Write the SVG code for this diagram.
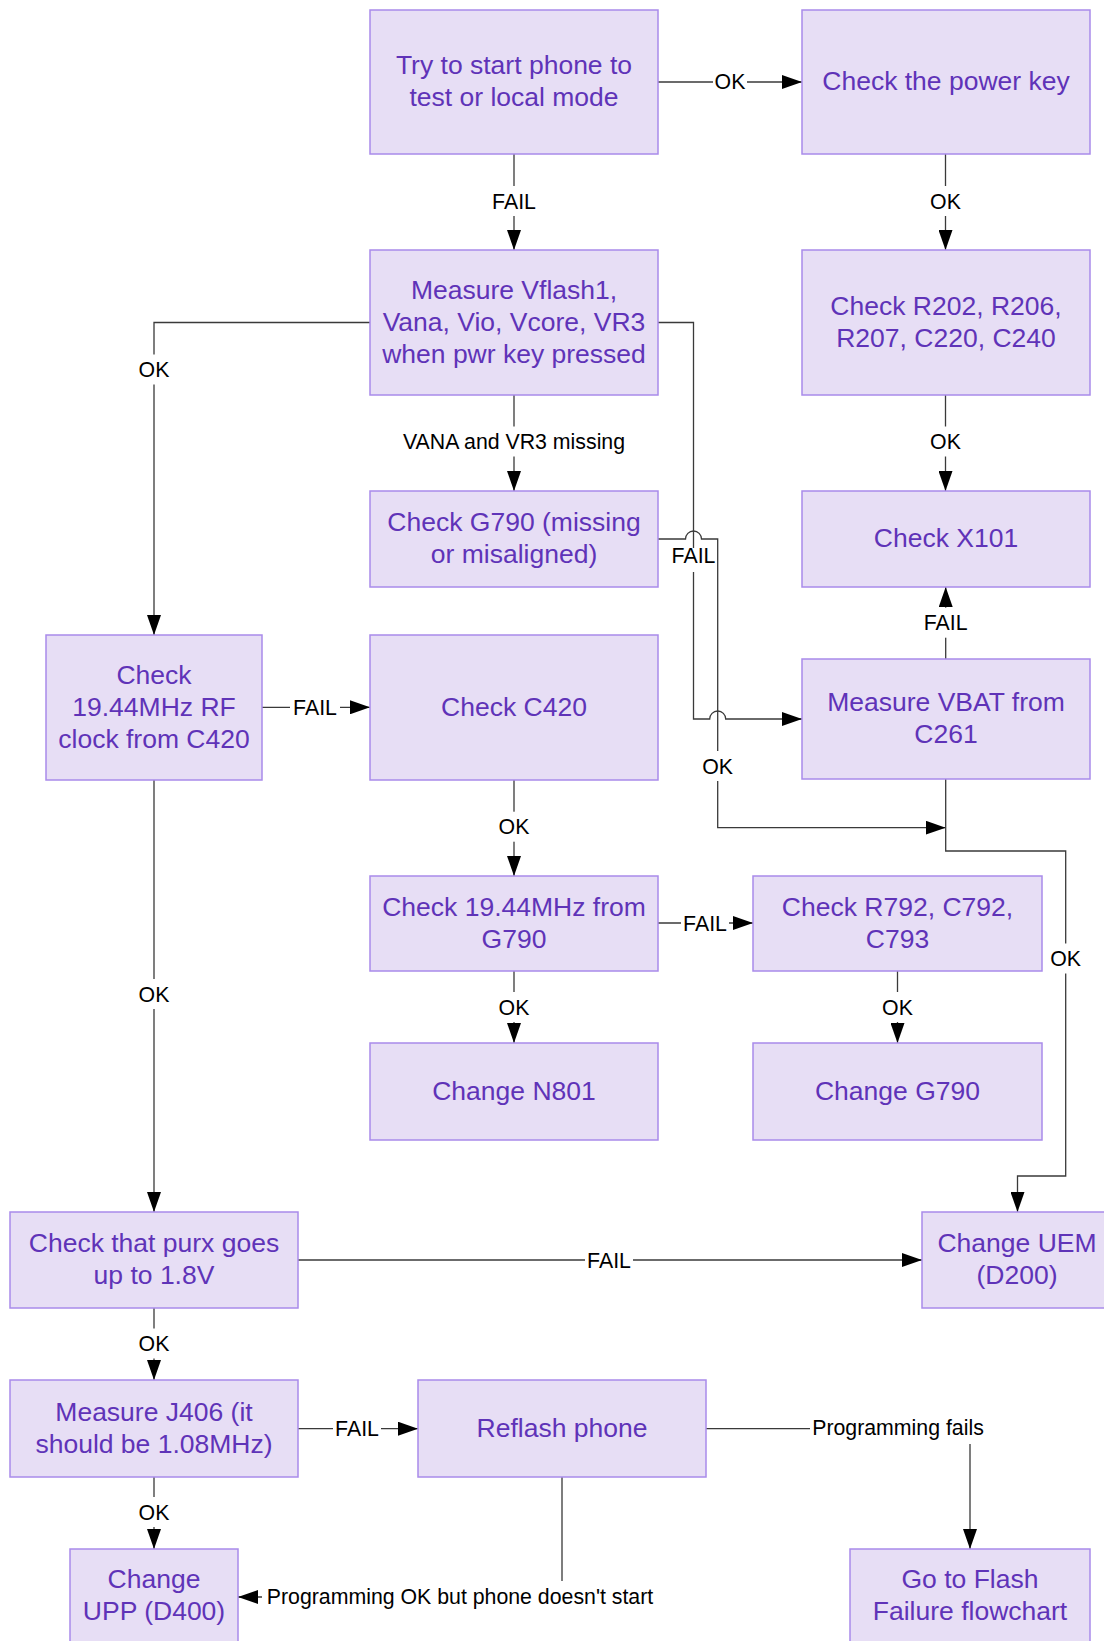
<svg xmlns="http://www.w3.org/2000/svg" width="1104" height="1641" viewBox="0 0 1104 1641">
<defs>
<style>
.box{fill:#E7DEF5;stroke:#A98BEA;stroke-width:1.5}
.bt{font-family:"Liberation Sans",Arial,sans-serif;font-size:26.5px;fill:#5F33B8;text-anchor:middle}
.ln{fill:none;stroke:#3A3A3A;stroke-width:1.3}
.lb{font-family:"Liberation Sans",Arial,sans-serif;font-size:21.3px;fill:#000;text-anchor:middle}
.bg{fill:#fff}
</style>
<marker id="ah" markerUnits="userSpaceOnUse" markerWidth="20" markerHeight="14" refX="20" refY="7" orient="auto" viewBox="0 0 20 14">
<path d="M0,0 L20,7 L0,14 z" fill="#000"/>
</marker>
</defs>
<rect width="1104" height="1641" fill="#fff"/>

<g id="connectors">
<path class="ln" d="M658,82 H802" marker-end="url(#ah)"/>
<path class="ln" d="M514,154 V250" marker-end="url(#ah)"/>
<path class="ln" d="M945.5,154 V250" marker-end="url(#ah)"/>
<path class="ln" d="M945.5,395 V491" marker-end="url(#ah)"/>
<path class="ln" d="M514,395 V491" marker-end="url(#ah)"/>
<path class="ln" d="M370,322.5 H154 V635" marker-end="url(#ah)"/>
<path class="ln" d="M658,322.5 H693.5 V719 H709.7 A8,8 0 0 1 725.7,719 H802" marker-end="url(#ah)"/>
<path class="ln" d="M658,539 H685.5 A8,8 0 0 1 701.5,539 H717.7 V827.7 H945.7" marker-end="url(#ah)"/>
<path class="ln" d="M945.7,659 V587" marker-end="url(#ah)"/>
<path class="ln" d="M945.7,779 V851 H1065.7 V1176 H1017.5 V1212" marker-end="url(#ah)"/>
<path class="ln" d="M262,707.3 H370" marker-end="url(#ah)"/>
<path class="ln" d="M514,780 V876" marker-end="url(#ah)"/>
<path class="ln" d="M658,923 H753" marker-end="url(#ah)"/>
<path class="ln" d="M514,971 V1043" marker-end="url(#ah)"/>
<path class="ln" d="M897.5,971 V1043" marker-end="url(#ah)"/>
<path class="ln" d="M154,780 V1212" marker-end="url(#ah)"/>
<path class="ln" d="M298,1260 H922" marker-end="url(#ah)"/>
<path class="ln" d="M154,1308 V1380" marker-end="url(#ah)"/>
<path class="ln" d="M298,1428.7 H418" marker-end="url(#ah)"/>
<path class="ln" d="M154,1477 V1549" marker-end="url(#ah)"/>
<path class="ln" d="M706,1428.7 H970 V1549" marker-end="url(#ah)"/>
<path class="ln" d="M562,1477 V1597 H238" marker-end="url(#ah)"/>
</g>

<g id="labels">
<rect class="bg" x="713" y="67" width="34" height="30"/><text class="lb" x="730" y="89.2">OK</text>
<rect class="bg" x="489" y="186" width="50" height="30"/><text class="lb" x="514" y="208.5">FAIL</text>
<rect class="bg" x="928.5" y="186" width="34" height="30"/><text class="lb" x="945.5" y="208.5">OK</text>
<rect class="bg" x="928.5" y="426.5" width="34" height="30"/><text class="lb" x="945.5" y="449">OK</text>
<rect class="bg" x="399" y="426.5" width="230" height="30"/><text class="lb" x="514" y="449">VANA and VR3 missing</text>
<rect class="bg" x="137" y="354.5" width="34" height="30"/><text class="lb" x="154" y="377">OK</text>
<rect class="bg" x="670" y="548" width="47" height="24"/><text class="lb" x="693.5" y="563">FAIL</text>
<rect class="bg" x="700.7" y="751" width="34" height="30"/><text class="lb" x="717.7" y="773.5">OK</text>
<rect class="bg" x="920.7" y="607.7" width="50" height="30"/><text class="lb" x="945.7" y="630.2">FAIL</text>
<rect class="bg" x="1048.7" y="943.5" width="34" height="30"/><text class="lb" x="1065.7" y="966">OK</text>
<rect class="bg" x="290" y="692.3" width="50" height="30"/><text class="lb" x="315" y="714.8">FAIL</text>
<rect class="bg" x="497" y="811.7" width="34" height="30"/><text class="lb" x="514" y="834.2">OK</text>
<rect class="bg" x="681" y="908" width="48" height="30"/><text class="lb" x="705" y="930.5">FAIL</text>
<rect class="bg" x="497" y="992" width="34" height="30"/><text class="lb" x="514" y="1014.5">OK</text>
<rect class="bg" x="880.5" y="992" width="34" height="30"/><text class="lb" x="897.5" y="1014.5">OK</text>
<rect class="bg" x="137" y="979" width="34" height="30"/><text class="lb" x="154" y="1001.5">OK</text>
<rect class="bg" x="585" y="1245" width="48" height="30"/><text class="lb" x="609" y="1267.5">FAIL</text>
<rect class="bg" x="137" y="1328.5" width="34" height="30"/><text class="lb" x="154" y="1351">OK</text>
<rect class="bg" x="333" y="1413.7" width="48" height="30"/><text class="lb" x="357" y="1436.2">FAIL</text>
<rect class="bg" x="137" y="1497" width="34" height="30"/><text class="lb" x="154" y="1519.5">OK</text>
<rect class="bg" x="810" y="1413" width="177" height="31"/><text class="lb" x="898" y="1435">Programming fails</text>
<rect class="bg" x="262" y="1581" width="396" height="30"/><text class="lb" x="460" y="1603.5">Programming OK but phone doesn't start</text>
</g>

<g id="n1"><rect class="box" x="370" y="10" width="288" height="144"/><text class="bt" x="514" y="74">Try to start phone to</text><text class="bt" x="514" y="106">test or local mode</text></g>
<g id="n2"><rect class="box" x="802" y="10" width="288" height="144"/><text class="bt" x="946" y="90">Check the power key</text></g>
<g id="n3"><rect class="box" x="370" y="250" width="288" height="145"/><text class="bt" x="514" y="298.5">Measure Vflash1,</text><text class="bt" x="514" y="330.5">Vana, Vio, Vcore, VR3</text><text class="bt" x="514" y="362.5">when pwr key pressed</text></g>
<g id="n4"><rect class="box" x="802" y="250" width="288" height="145"/><text class="bt" x="946" y="314.5">Check R202, R206,</text><text class="bt" x="946" y="346.5">R207, C220, C240</text></g>
<g id="n5"><rect class="box" x="370" y="491" width="288" height="96"/><text class="bt" x="514" y="531">Check G790 (missing</text><text class="bt" x="514" y="563">or misaligned)</text></g>
<g id="n6"><rect class="box" x="802" y="491" width="288" height="96"/><text class="bt" x="946" y="547">Check X101</text></g>
<g id="n7"><rect class="box" x="46" y="635" width="216" height="145"/><text class="bt" x="154" y="683.5">Check</text><text class="bt" x="154" y="715.5">19.44MHz RF</text><text class="bt" x="154" y="747.5">clock from C420</text></g>
<g id="n8"><rect class="box" x="370" y="635" width="288" height="145"/><text class="bt" x="514" y="715.5">Check C420</text></g>
<g id="n9"><rect class="box" x="802" y="659" width="288" height="120"/><text class="bt" x="946" y="711">Measure VBAT from</text><text class="bt" x="946" y="743">C261</text></g>
<g id="n10"><rect class="box" x="370" y="876" width="288" height="95"/><text class="bt" x="514" y="915.5">Check 19.44MHz from</text><text class="bt" x="514" y="947.5">G790</text></g>
<g id="n11"><rect class="box" x="753" y="876" width="289" height="95"/><text class="bt" x="897.5" y="915.5">Check R792, C792,</text><text class="bt" x="897.5" y="947.5">C793</text></g>
<g id="n12"><rect class="box" x="370" y="1043" width="288" height="97"/><text class="bt" x="514" y="1099.5">Change N801</text></g>
<g id="n13"><rect class="box" x="753" y="1043" width="289" height="97"/><text class="bt" x="897.5" y="1099.5">Change G790</text></g>
<g id="n14"><rect class="box" x="10" y="1212" width="288" height="96"/><text class="bt" x="154" y="1252">Check that purx goes</text><text class="bt" x="154" y="1284">up to 1.8V</text></g>
<g id="n15"><rect class="box" x="922" y="1212" width="190" height="96"/><text class="bt" x="1017" y="1252">Change UEM</text><text class="bt" x="1017" y="1284">(D200)</text></g>
<g id="n16"><rect class="box" x="10" y="1380" width="288" height="97"/><text class="bt" x="154" y="1420.5">Measure J406 (it</text><text class="bt" x="154" y="1452.5">should be 1.08MHz)</text></g>
<g id="n17"><rect class="box" x="418" y="1380" width="288" height="97"/><text class="bt" x="562" y="1436.5">Reflash phone</text></g>
<g id="n18"><rect class="box" x="70" y="1549" width="168" height="96"/><text class="bt" x="154" y="1588">Change</text><text class="bt" x="154" y="1620">UPP (D400)</text></g>
<g id="n19"><rect class="box" x="850" y="1549" width="240" height="96"/><text class="bt" x="970" y="1588">Go to Flash</text><text class="bt" x="970" y="1620">Failure flowchart</text></g>
</svg>
